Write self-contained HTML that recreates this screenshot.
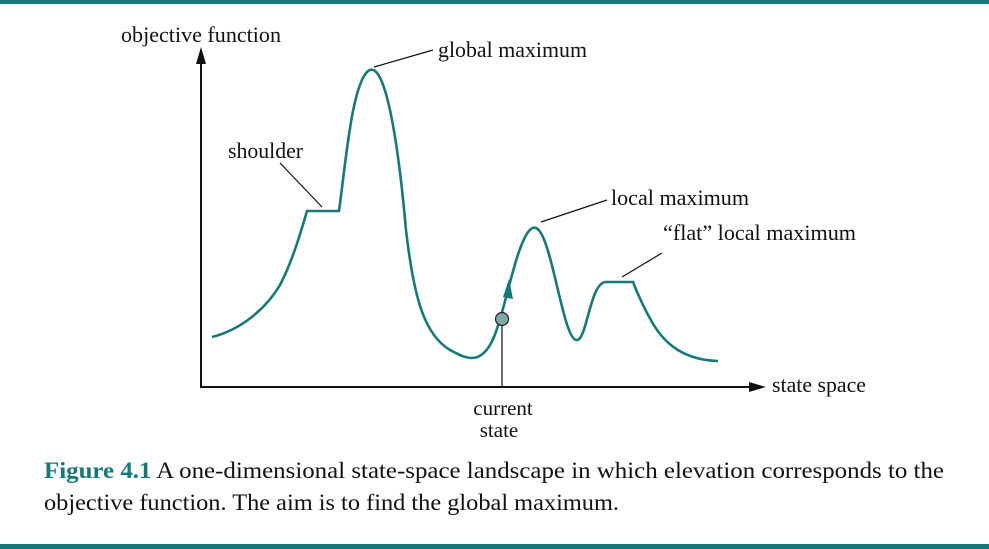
<!DOCTYPE html>
<html><head><meta charset="utf-8"><style>
html,body{margin:0;padding:0;background:#fff;}
svg{display:block;}
text{font-family:"Liberation Serif",serif;fill:#111;}
</style></head><body>
<svg width="989" height="549" viewBox="0 0 989 549" xmlns="http://www.w3.org/2000/svg">
<rect x="0" y="0" width="989" height="4" fill="#17787a"/>
<rect x="0" y="544" width="989" height="5" fill="#17787a"/>
<!-- axes -->
<line x1="201" y1="388" x2="201" y2="60" stroke="#111" stroke-width="2"/>
<polygon points="201,47 196,64 206,64" fill="#111"/>
<line x1="200" y1="387" x2="752" y2="387" stroke="#111" stroke-width="2"/>
<polygon points="766,387 749,382 749,392" fill="#111"/>
<!-- curve -->
<path d="M212,337 C240,330 265,310 280,285 C292,262 300,235 307,211 L339,211 C346,160 352,85 368,71 C385,58 398,140 406,230 C414,300 425,335 450,350 C465,358 478,365 490,345 C498,332 505,300 512,275 C520,245 528,225 536,228 C552,234 563,342 577,340 C587,340 590,282 606,282 L633,282 C640,300 645,310 652,322 C665,345 685,360 718,361" fill="none" stroke="#17787a" stroke-width="2.6"/>
<polygon points="509,279 503,297 513,299" fill="#17787a"/>
<!-- current state -->
<line x1="502" y1="325" x2="502" y2="388" stroke="#111" stroke-width="1.2"/>
<circle cx="502" cy="319" r="6.5" fill="#7fa7a8" stroke="#222" stroke-width="1.2"/>
<!-- leaders -->
<line x1="374" y1="67" x2="433" y2="50" stroke="#111" stroke-width="1.2"/>
<line x1="280" y1="163" x2="322" y2="207" stroke="#111" stroke-width="1.2"/>
<line x1="541" y1="222" x2="607" y2="200" stroke="#111" stroke-width="1.2"/>
<line x1="622" y1="277" x2="662" y2="253" stroke="#111" stroke-width="1.2"/>
<!-- labels -->
<text x="121" y="42" font-size="22" textLength="160" lengthAdjust="spacingAndGlyphs">objective function</text>
<text x="438" y="57" font-size="22" textLength="149" lengthAdjust="spacingAndGlyphs">global maximum</text>
<text x="228" y="158" font-size="22" textLength="75" lengthAdjust="spacingAndGlyphs">shoulder</text>
<text x="611" y="205" font-size="22" textLength="138" lengthAdjust="spacingAndGlyphs">local maximum</text>
<text x="663" y="240" font-size="22" textLength="193" lengthAdjust="spacingAndGlyphs">“flat” local maximum</text>
<text x="772" y="392" font-size="22" textLength="94" lengthAdjust="spacingAndGlyphs">state space</text>
<text x="503" y="415" font-size="21" text-anchor="middle">current</text>
<text x="499" y="437" font-size="21" text-anchor="middle">state</text>
<!-- caption -->
<text x="44" y="478" font-size="23" textLength="900" lengthAdjust="spacingAndGlyphs"><tspan font-weight="bold" fill="#17787a">Figure 4.1</tspan>  A one-dimensional state-space landscape in which elevation corresponds to the</text>
<text x="44" y="510" font-size="23" textLength="575" lengthAdjust="spacingAndGlyphs">objective function. The aim is to find the global maximum.</text>
</svg>
</body></html>
